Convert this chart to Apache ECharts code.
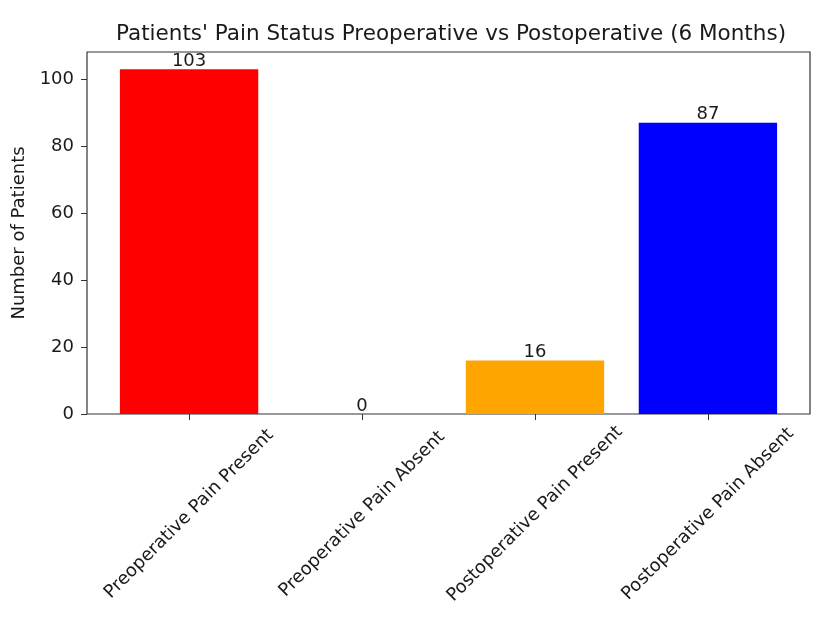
<!DOCTYPE html>
<html>
<head>
<meta charset="utf-8">
<script src="https://cdn.jsdelivr.net/npm/echarts@6/dist/echarts.min.js"></script>
<style>
  html, body { margin: 0; padding: 0; background: #fff; }
  #chart { width: 835px; height: 623px; }
</style>
</head>
<body>
<div id="chart"></div>
<script>
// data
var categories = ['Preoperative Pain Present', 'Preoperative Pain Absent', 'Postoperative Pain Present', 'Postoperative Pain Absent'];
var patients = [103, 0, 16, 87];
var barColors = ['#ff0000', '#ff0000', '#ffa500', '#0000ff'];
var yTicks = [0, 20, 40, 60, 80, 100];

var font = 'DejaVu Sans';
var yMax = 108.15;

var chart = echarts.init(document.getElementById('chart'));
chart.setOption({
  animation: false,
  textStyle: { fontFamily: font },
  title: {
    text: "Patients' Pain Status Preoperative vs Postoperative (6 Months)",
    left: 446, top: 18, textAlign: 'center',
    textStyle: { fontFamily: font, fontSize: 21.5, fontWeight: 'normal', color: '#1a1a1a' }
  },
  grid: [
    // frame + y axis
    { left: 87, right: 25, top: 52, bottom: 209, show: true, borderColor: '#333', borderWidth: 1.2, backgroundColor: 'transparent' },
    // bars: category bands sit inside the frame with matplotlib margins
    { left: 102.6, right: 40.6, top: 52, bottom: 209 }
  ],
  xAxis: [
    { type: 'value', gridIndex: 0, show: false, min: 0, max: 1 },
    {
      type: 'category', gridIndex: 1, data: categories,
      axisLine: { show: false },
      axisTick: { show: true, alignWithLabel: true, length: 6, lineStyle: { color: '#333' } },
      axisLabel: {
        interval: 0, rotate: 45, margin: 100,
        align: 'center', verticalAlign: 'middle',
        fontFamily: font, fontSize: 18, color: '#1a1a1a'
      }
    }
  ],
  yAxis: [
    {
      type: 'value', gridIndex: 0, min: 0, max: yMax, interval: 20,
      name: 'Number of Patients', nameLocation: 'middle', nameGap: 58, nameRotate: 90,
      nameTextStyle: { fontFamily: font, fontSize: 18, color: '#1a1a1a' },
      axisLine: { show: false },
      axisTick: { show: true, length: 6, lineStyle: { color: '#333' } },
      axisLabel: {
        fontFamily: font, fontSize: 18, color: '#1a1a1a', margin: 13,
        showMaxLabel: false,
        formatter: function (v) { return yTicks.indexOf(v) >= 0 ? String(v) : ''; }
      },
      splitLine: { show: false }
    },
    { type: 'value', gridIndex: 1, min: 0, max: yMax, show: false }
  ],
  series: [{
    type: 'bar',
    xAxisIndex: 1, yAxisIndex: 1,
    barWidth: '80%',
    data: patients.map(function (v, i) {
      return { value: v, itemStyle: { color: barColors[i] } };
    }),
    label: {
      show: true, position: 'top', distance: -1,
      fontFamily: font, fontSize: 18, color: '#1a1a1a'
    }
  }]
});
</script>
</body>
</html>
